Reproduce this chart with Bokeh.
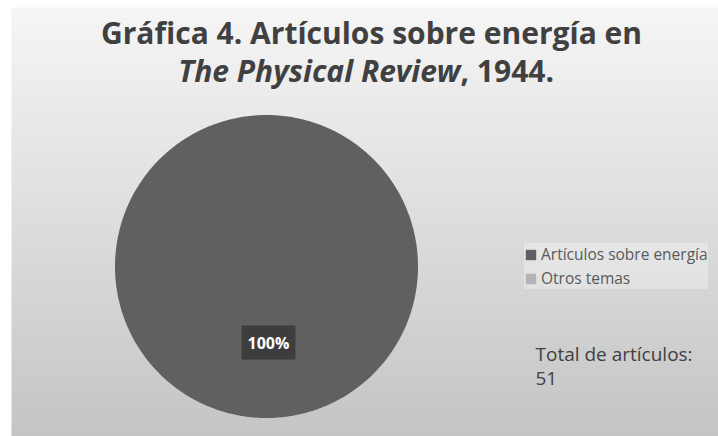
import numpy as np
from bokeh.plotting import figure
from bokeh.models import Range1d, Legend, LegendItem
from bokeh.core.properties import value
from bokeh.embed import file_html
from bokeh.resources import INLINE

# ---- data ----
categories = ["Artículos sobre energía", "Otros temas"]
counts = [51, 0]
colors = ["#606060", "#b4b4b4"]
pct_labels = ["100%"]
total_label = ["Total de artículos:", "51"]
title_line1 = "Gráfica 4. Artículos sobre energía en"
title_italic = "The Physical Review"
title_rest = ", 1944."

W, H = 718, 436
FONT = "Open Sans"

p = figure(width=W, height=H, output_backend="svg", toolbar_location=None,
           x_range=Range1d(0, W), y_range=Range1d(0, H), min_border=0,
           border_fill_color="white", outline_line_color=None)
p.axis.visible = False
p.grid.visible = False

def py(page_y):
    return H - page_y

def px(page_x):
    return page_x

# background gradient
n = 256
top = np.array([246, 246, 246], dtype=float)
bot = np.array([197, 197, 197], dtype=float)
t = np.linspace(1, 0, n)[:, None]  # row 0 = bottom
rgb = (bot * t + top * (1 - t)).astype(np.uint32)
img = np.zeros((n, 1), dtype=np.uint32)
view = img.view(dtype=np.uint8).reshape((n, 1, 4))
view[:, 0, 0] = rgb[:, 0]
view[:, 0, 1] = rgb[:, 1]
view[:, 0, 2] = rgb[:, 2]
view[:, 0, 3] = 255
p.image_rgba(image=[img], x=px(11), y=0, dw=W - px(11), dh=py(7))

# pie (drawn as polygons from the category fractions)
total = sum(counts)
fr = np.array(counts, dtype=float) / total
cum = np.concatenate([[0], np.cumsum(fr)])
cx, cy, R = px(266), py(266), 151.5
items = []
for i, cat in enumerate(categories):
    a0 = np.pi / 2 - cum[i] * 2 * np.pi
    a1 = np.pi / 2 - cum[i + 1] * 2 * np.pi
    if fr[i] > 0:
        m = max(2, int(400 * fr[i]))
        ang = np.linspace(a0, a1, m)
        xs = [cx] + list(cx + R * np.cos(ang)) + [cx]
        ys = [cy] + list(cy + R * np.sin(ang)) + [cy]
    else:
        xs, ys = [cx], [cy]
    r = p.patch(x=xs, y=ys, fill_color=colors[i], line_color=None)
    items.append(LegendItem(label=cat, renderers=[r]))

legend = Legend(items=items, location=(px(524), py(289)), padding=0, margin=0,
                spacing=2, label_height=20, glyph_height=13, glyph_width=13,
                label_standoff=4, border_line_color=None,
                background_fill_color="white", background_fill_alpha=0.3,
                label_text_font=FONT,
                label_text_font_size="15.5px", label_text_color="#595959")
p.add_layout(legend, "center")

# percentage label
p.text(x=[px(268)], y=[py(342)], text=pct_labels, text_align="center",
       text_baseline="middle", text_color="white", text_font=value(FONT),
       text_font_style="bold", text_font_size="16px",
       background_fill_color="#3d3d3d", padding=6)

# total text
p.text(x=[px(535), px(535)], y=[py(353), py(378)], text=total_label,
       text_align="left", text_baseline="alphabetic", text_color="#404040",
       text_font=value(FONT), text_font_size="19px")

# title
TS = "30px"
p.text(x=[px(371)], y=[py(32)], text=[title_line1], text_align="center",
       text_baseline="alphabetic", text_color="#404040", text_font=value(FONT),
       text_font_style="bold", text_font_size=TS)
p.text(x=[px(460)], y=[py(70)], text=[title_italic], text_align="right",
       text_baseline="alphabetic", text_color="#404040", text_font=value(FONT),
       text_font_style="bold italic", text_font_size=TS)
p.text(x=[px(460)], y=[py(70)], text=[title_rest], text_align="left",
       text_baseline="alphabetic", text_color="#404040", text_font=value(FONT),
       text_font_style="bold", text_font_size=TS)

open("out.html", "w").write(file_html(p, INLINE))
